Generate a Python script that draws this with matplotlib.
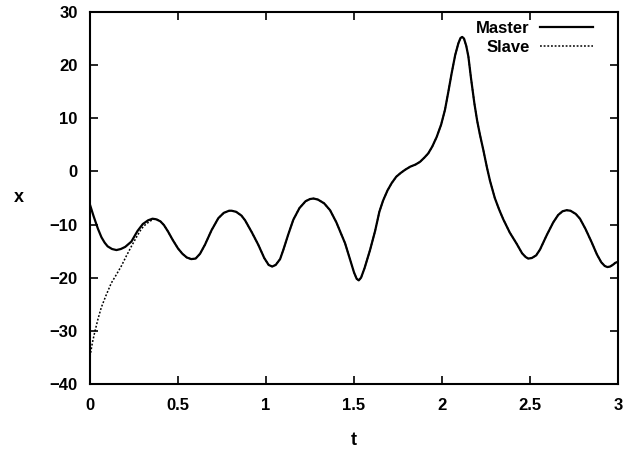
import matplotlib
matplotlib.use("Agg")
import matplotlib.pyplot as plt
import numpy as np

# values
master_t = [0.00, 0.02, 0.045, 0.065, 0.083, 0.10, 0.125, 0.15, 0.175, 0.20,
            0.235, 0.27, 0.30, 0.33, 0.355, 0.375, 0.40, 0.42, 0.443, 0.47,
            0.50, 0.525, 0.55, 0.575, 0.60, 0.625, 0.653, 0.69, 0.729, 0.76,
            0.79, 0.805, 0.83, 0.86, 0.881, 0.92, 0.956, 0.99, 1.015, 1.035,
            1.055, 1.08, 1.098, 1.125, 1.155, 1.19, 1.225, 1.25, 1.27, 1.295,
            1.33, 1.364, 1.40, 1.43, 1.449, 1.475, 1.50, 1.515, 1.527, 1.54,
            1.56, 1.591, 1.62, 1.644, 1.665, 1.69, 1.714, 1.74, 1.765, 1.79,
            1.82, 1.85, 1.875, 1.90, 1.922, 1.945, 1.97, 1.995, 2.017, 2.035,
            2.055, 2.075, 2.093, 2.105, 2.115, 2.125, 2.138, 2.15, 2.165, 2.184,
            2.20, 2.215, 2.235, 2.255, 2.273, 2.30, 2.325, 2.348, 2.385, 2.424,
            2.455, 2.475, 2.49, 2.51, 2.535, 2.557, 2.595, 2.632, 2.66, 2.685,
            2.708, 2.73, 2.76, 2.784, 2.815, 2.85, 2.88, 2.905, 2.925, 2.94,
            2.955, 2.97, 2.985, 3.00]
master_x = [-6.3, -8.4, -10.8, -12.4, -13.4, -14.1, -14.6, -14.8, -14.6, -14.2,
            -13.2, -11.2, -9.9, -9.2, -8.9, -9.0, -9.4, -10.1, -11.3, -12.9,
            -14.5, -15.5, -16.2, -16.5, -16.4, -15.5, -13.8, -11.1, -8.8, -7.8,
            -7.4, -7.4, -7.6, -8.3, -9.2, -11.5, -13.8, -16.3, -17.6, -17.9,
            -17.6, -16.5, -14.8, -12.0, -9.1, -6.9, -5.6, -5.2, -5.1, -5.3,
            -6.0, -7.3, -9.6, -12.0, -13.5, -16.3, -19.0, -20.2, -20.5, -20.0,
            -18.2, -14.8, -11.2, -7.6, -5.5, -3.6, -2.2, -1.0, -0.3, 0.3,
            0.9, 1.3, 1.8, 2.6, 3.4, 4.7, 6.5, 8.8, 11.6, 14.8,
            18.5, 21.9, 24.1, 25.1, 25.3, 25.0, 23.6, 21.6, 17.5, 12.8,
            9.5, 7.0, 4.0, 0.8, -1.8, -5.0, -7.2, -9.0, -11.5, -13.6,
            -15.4, -16.1, -16.4, -16.3, -15.8, -14.7, -12.0, -9.6, -8.2, -7.5,
            -7.3, -7.4, -8.0, -8.9, -10.8, -13.3, -15.6, -17.1, -17.8, -18.0,
            -17.9, -17.6, -17.2, -17.0]

# slave starts far off and locks onto the master near t = 0.4
slave_t = [0.00, 0.013, 0.027, 0.045, 0.064, 0.09, 0.121, 0.15, 0.178, 0.205,
           0.235, 0.265, 0.292, 0.315, 0.339, 0.36, 0.38]
slave_x = [-34.8, -32.3, -30.2, -27.8, -25.6, -23.4, -21.0, -19.4, -17.8, -16.0,
           -14.1, -12.3, -10.8, -10.0, -9.4, -9.0, -9.0]

xticks = [0, 0.5, 1, 1.5, 2, 2.5, 3]
xtick_labels = ["0", "0.5", "1", "1.5", "2", "2.5", "3"]
yticks = [-40, -30, -20, -10, 0, 10, 20, 30]

plt.rcParams['font.family'] = ['Liberation Sans', 'DejaVu Sans']

fig = plt.figure(figsize=(6.44, 4.49), dpi=100)
ax = fig.add_axes([0.1398, 0.1448, 0.8198, 0.8285])

# slave follows master after it locks on
mt = np.array(master_t)
mx = np.array(master_x)
after = mt >= 0.40
st = np.concatenate([slave_t, mt[after]])
sx = np.concatenate([slave_x, mx[after]])

ax.plot(st, sx, color='black', lw=1.1, linestyle=(0, (1.2, 1.2)), label='Slave')
ax.plot(mt, mx, color='black', lw=1.6, label='Master')

ax.set_xlim(0, 3)
ax.set_ylim(-40, 30)
ax.set_xticks(xticks)
ax.set_xticklabels(xtick_labels)
ax.set_yticks(yticks)

ax.tick_params(direction='in', length=6, width=1.2, top=True, right=True,
               labelsize=12)
ax.tick_params(axis='x', pad=10)
ax.tick_params(axis='y', pad=9)
for lbl in ax.get_xticklabels() + ax.get_yticklabels():
    lbl.set_fontweight('bold')
for sp in ax.spines.values():
    sp.set_linewidth(1.5)

ax.set_xlabel('t', fontsize=13, fontweight='bold', labelpad=14)
ax.set_ylabel('x', fontsize=13, fontweight='bold', labelpad=22, rotation=0,
              va='center')

handles, labels = ax.get_legend_handles_labels()
leg = ax.legend(handles[::-1], labels[::-1], loc='upper right', frameon=False,
                bbox_to_anchor=(0.965, 0.993),
                markerfirst=False, handlelength=3.2, fontsize=12,
                borderaxespad=0.0, labelspacing=0.2, handletextpad=0.6)
for txt in leg.get_texts():
    txt.set_fontweight('bold')
    txt.set_ha('right')

fig.savefig('out.png', dpi=100)
